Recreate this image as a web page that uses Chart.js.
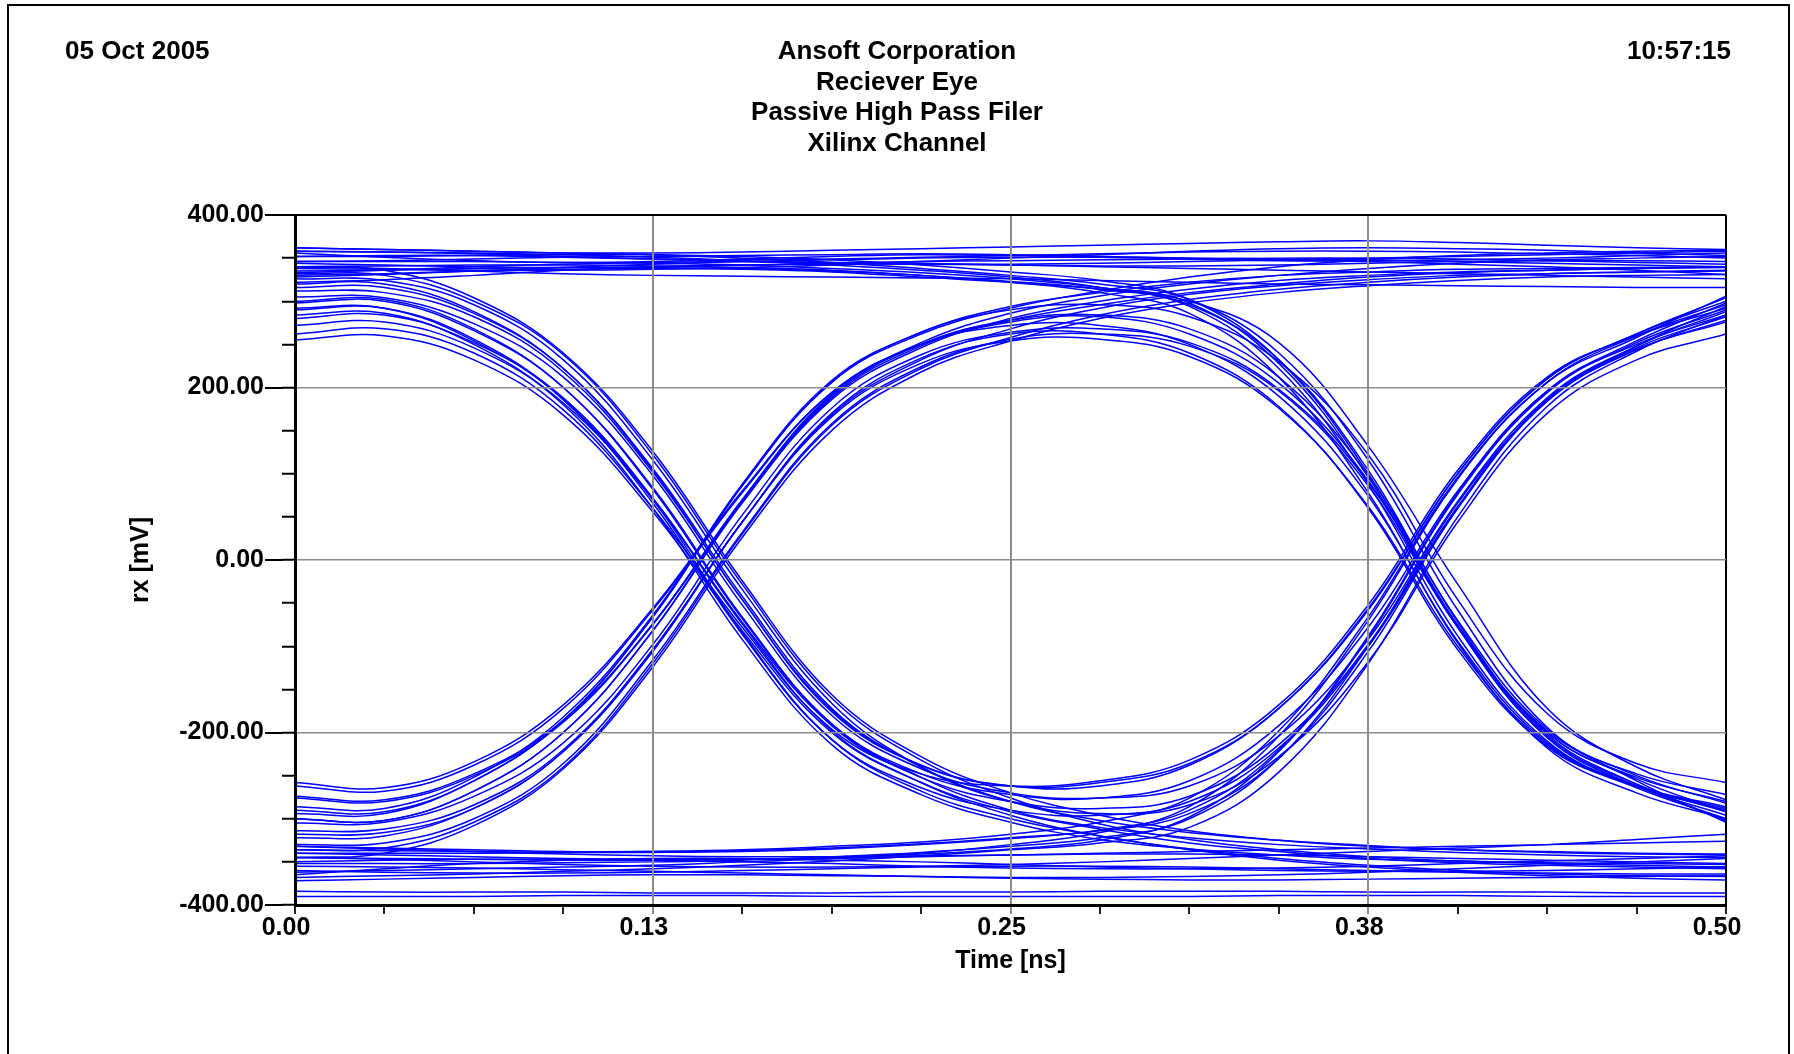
<!DOCTYPE html>
<html>
<head>
<meta charset="utf-8">
<title>Reciever Eye</title>
<script src="https://cdn.jsdelivr.net/npm/chart.js@4.4.0/dist/chart.umd.min.js"></script>
<style>
  html, body { margin: 0; padding: 0; background: #fff; }
  #wrap { position: relative; width: 1794px; height: 1054px; }
</style>
</head>
<body>
<div id="wrap"><canvas id="eyeCanvas"></canvas></div>
<script>
// header texts
var dateText = "05 Oct 2005";
var timeText = "10:57:15";
var titleLines = ["Ansoft Corporation", "Reciever Eye", "Passive High Pass Filer", "Xilinx Channel"];

// sample times [ns], shared by every trace
var timeNs = [0, 0.03125, 0.0625, 0.09375, 0.125, 0.15625, 0.1875, 0.21875, 0.25,
              0.28125, 0.3125, 0.34375, 0.375, 0.40625, 0.4375, 0.46875, 0.5];

var steadyHigh = [
  [362,360,358,356,356,357,359,361,363,365,367,369,370,368,365,362,360],
  [352,353,353,351,349,348,349,351,353,355,357,358,358,357,355,353,350],
  [344,342,340,339,340,342,344,346,347,348,349,350,350,349,347,345,343],
  [333,336,340,343,345,346,345,344,342,341,341,342,344,346,347,347,346],
  [356,351,347,345,346,349,352,354,353,351,349,347,347,348,350,353,356],
  [328,331,335,339,343,346,348,350,351,351,350,348,346,343,340,336,331],
  [346,347,349,351,352,353,354,355,354,352,350,349,348,346,344,342,340],
  [322,325,330,336,340,342,343,343,342,340,338,336,334,332,330,328,326],
  [338,337,336,336,337,339,342,346,350,354,358,361,362,361,359,356,353],
  [358,357,355,352,349,346,344,343,343,344,346,348,350,352,354,356,358],
  [340,338,335,332,330,329,328,327,326,324,322,320,319,318,317,316,316]
];
var steadyLow = [
  [-390,-390,-390,-389,-389,-389,-390,-390,-390,-390,-390,-389,-389,-389,-390,-390,-390],
  [-384,-385,-385,-385,-386,-386,-386,-385,-385,-384,-384,-384,-385,-385,-385,-386,-386],
  [-372,-370,-368,-366,-365,-365,-366,-367,-369,-370,-371,-371,-370,-369,-368,-367,-366],
  [-360,-362,-363,-363,-362,-360,-358,-356,-355,-355,-356,-358,-360,-362,-363,-364,-364],
  [-350,-348,-347,-347,-348,-350,-352,-355,-357,-358,-358,-357,-355,-352,-349,-346,-343],
  [-340,-342,-344,-346,-347,-347,-346,-344,-342,-341,-341,-342,-344,-346,-348,-350,-352],
  [-365,-358,-352,-348,-346,-346,-348,-350,-353,-356,-358,-360,-361,-361,-360,-358,-356],
  [-332,-335,-338,-341,-343,-344,-344,-343,-342,-340,-338,-336,-334,-332,-330,-328,-326],
  [-355,-356,-357,-359,-361,-363,-365,-367,-368,-368,-367,-365,-362,-358,-354,-350,-346],
  [-345,-347,-350,-353,-355,-356,-356,-355,-353,-350,-346,-342,-338,-334,-330,-324,-318]
];
var fallStayLow = [
  [300,302,268,200,84,-66,-190,-252,-290,-310,-322,-330,-335,-339,-342,-344,-345],
  [255,260,232,168,56,-82,-200,-258,-292,-312,-328,-338,-346,-351,-354,-356,-358],
  [332,330,300,238,122,-28,-160,-232,-276,-306,-324,-336,-344,-349,-352,-354,-356],
  [284,286,250,180,60,-92,-214,-272,-304,-324,-335,-342,-347,-349,-351,-352,-353],
  [316,316,286,222,106,-42,-172,-240,-280,-302,-316,-325,-331,-336,-339,-341,-342],
  [272,276,246,182,70,-74,-198,-258,-296,-320,-335,-346,-354,-360,-364,-366,-367],
  [340,336,304,240,126,-24,-156,-228,-270,-296,-314,-325,-332,-336,-338,-340,-341],
  [292,292,254,186,70,-84,-208,-268,-300,-320,-336,-348,-356,-362,-366,-369,-371]
];
var fallThenRise = [
  [298,300,266,200,82,-68,-190,-248,-272,-276,-256,-192,-78,80,196,250,284],
  [262,268,240,174,60,-78,-196,-248,-262,-256,-232,-168,-52,104,212,260,292],
  [326,324,296,232,116,-34,-166,-240,-280,-294,-284,-228,-118,44,170,232,262],
  [290,292,256,186,66,-86,-208,-264,-290,-296,-280,-218,-100,60,184,244,276],
  [312,310,282,218,102,-46,-176,-238,-262,-262,-238,-172,-58,100,210,262,304],
  [280,284,252,188,72,-72,-192,-252,-280,-288,-274,-214,-98,62,186,246,282],
  [305,304,274,212,98,-52,-180,-242,-270,-276,-262,-204,-92,68,188,248,288],
  [320,320,288,222,104,-46,-174,-238,-262,-258,-236,-172,-56,100,210,262,300]
];
var riseStayHigh = [
  [-300,-302,-268,-200,-82,66,186,246,280,300,314,324,330,334,336,338,339],
  [-258,-264,-234,-168,-56,80,194,250,278,296,310,320,328,333,336,338,340],
  [-336,-334,-304,-240,-120,30,156,222,258,284,302,314,322,328,332,334,336],
  [-286,-288,-252,-182,-64,88,208,264,294,310,322,330,334,337,338,339,340],
  [-318,-316,-288,-222,-106,44,168,232,268,292,308,318,325,330,332,334,335],
  [-274,-278,-248,-186,-74,70,192,252,286,306,320,330,338,344,348,350,352],
  [-345,-340,-308,-242,-124,26,150,218,254,280,298,310,318,324,328,330,331],
  [-294,-294,-256,-186,-66,86,206,262,292,312,328,340,348,353,356,358,359]
];
var riseThenFall = [
  [-300,-302,-268,-200,-82,68,188,248,276,282,262,205,92,-76,-200,-252,-280],
  [-262,-268,-238,-172,-58,78,194,250,272,272,250,190,74,-94,-212,-262,-290],
  [-330,-328,-300,-236,-116,32,158,224,256,262,248,196,86,-78,-198,-248,-272],
  [-290,-292,-256,-186,-66,86,206,264,290,296,282,230,122,-46,-178,-236,-258],
  [-314,-312,-284,-220,-104,44,166,228,254,256,236,176,62,-100,-214,-262,-286],
  [-276,-280,-250,-188,-75,68,190,250,278,284,268,212,98,-70,-196,-250,-282],
  [-305,-304,-274,-212,-98,52,176,238,264,268,252,198,90,-76,-200,-254,-292],
  [-322,-320,-288,-222,-104,44,170,234,262,262,240,178,60,-104,-216,-264,-300]
];
var highThenFall = [
  [352,352,353,354,354,352,348,342,334,324,302,232,100,-76,-204,-260,-292],
  [340,341,342,342,341,339,336,330,322,310,286,212,78,-96,-218,-270,-300],
  [362,360,358,356,354,350,345,338,330,320,302,240,116,-58,-194,-256,-304],
  [330,332,335,337,338,337,334,328,322,314,300,252,132,-28,-172,-240,-278],
  [346,346,346,345,344,342,338,333,326,316,298,228,96,-78,-206,-262,-296],
  [358,357,356,354,351,347,342,336,328,316,294,222,88,-88,-210,-262,-288],
  [335,336,338,339,339,338,335,330,323,314,296,232,104,-72,-202,-260,-302]
];
var lowThenRise = [
  [-345,-346,-347,-348,-348,-347,-345,-341,-335,-325,-298,-222,-90,76,194,252,290],
  [-362,-360,-358,-356,-354,-350,-346,-340,-330,-316,-286,-204,-70,94,206,260,296],
  [-332,-334,-336,-338,-338,-337,-334,-329,-322,-314,-294,-230,-106,60,186,248,294],
  [-352,-352,-352,-351,-350,-348,-344,-339,-332,-322,-300,-230,-100,66,184,244,278],
  [-340,-340,-340,-339,-338,-336,-332,-327,-318,-304,-276,-198,-66,96,206,258,306],
  [-368,-366,-364,-361,-358,-354,-349,-343,-336,-328,-310,-246,-120,50,178,242,284],
  [-336,-337,-338,-339,-339,-338,-335,-330,-323,-313,-290,-220,-88,78,196,254,298]
];

var yMajor = [400, 200, 0, -200, -400];
var labelFont = '"Liberation Sans", Arial, sans-serif';

var allTraces = [].concat(steadyHigh, steadyLow, fallStayLow, fallThenRise,
                          riseStayHigh, riseThenFall, highThenFall, lowThenRise);

var datasets = [];
for (var i in allTraces) {
  var pts = [];
  for (var j in timeNs) {
    pts.push({x: timeNs[j], y: allTraces[i][j]});
  }
  datasets.push({
    label: "rx" + i,
    data: pts,
    borderColor: "#0000ff",
    borderWidth: 1.5,
    pointRadius: 0,
    fill: false,
    tension: 0.4
  });
}

function isMultiple(v, step) {
  var r = Math.abs(v / step - Math.round(v / step));
  return r < 1e-6;
}

var headerPlugin = {
  id: "header",
  beforeDraw: function(chart) {
    var ctx = chart.ctx;
    ctx.save();
    ctx.fillStyle = "#fff";
    ctx.fillRect(0, 0, chart.width, chart.height);
    ctx.strokeStyle = "#000";
    ctx.lineWidth = 2;
    ctx.strokeRect(8, 5, 1781, 1200);
    ctx.fillStyle = "#000";
    ctx.font = "bold 26px " + labelFont;
    ctx.textBaseline = "alphabetic";
    ctx.textAlign = "left";
    ctx.fillText(dateText, 65, 59);
    ctx.textAlign = "right";
    ctx.fillText(timeText, 1731, 59);
    ctx.textAlign = "center";
    for (var k = 0; k < titleLines.length; k++) {
      ctx.fillText(titleLines[k], chart.width / 2, 59 + k * 30.5);
    }
    ctx.restore();
  },
  afterDraw: function(chart) {
    // longer tick marks at the labelled values
    var ctx = chart.ctx;
    var ys = chart.scales.y;
    var left = chart.chartArea.left;
    ctx.save();
    ctx.strokeStyle = "#000";
    ctx.lineWidth = 2;
    for (var k in yMajor) {
      var py = Math.round(ys.getPixelForValue(yMajor[k]));
      ctx.beginPath();
      ctx.moveTo(left - 30, py);
      ctx.lineTo(left - 12, py);
      ctx.stroke();
    }
    ctx.restore();
  }
};

var ctx = document.getElementById("eyeCanvas");

var eyeChart = new Chart(ctx, {
  type: "line",
  data: { datasets: datasets },
  plugins: [headerPlugin],
  options: {
    responsive: true,
    maintainAspectRatio: false,
    animation: false,
    layout: { padding: { top: 215, right: 68, bottom: 78, left: 0 } },
    plugins: {
      legend: { display: false },
      tooltip: { enabled: false },
      title: { display: false }
    },
    scales: {
      x: {
        type: "linear",
        min: 0,
        max: 0.5,
        afterFit: function(scale) { scale.height = 71; },
        afterBuildTicks: function(scale) {
          scale.ticks = timeNs.map(function(t) { return {value: t}; });
        },
        ticks: {
          autoSkip: false,
          maxRotation: 0,
          padding: -1,
          labelOffset: -9,
          color: "#000",
          font: { family: labelFont, size: 25, weight: "bold" },
          callback: function(v) { return isMultiple(v, 0.125) ? v.toFixed(2) : ""; }
        },
        grid: {
          z: 1,
          tickLength: 9,
          tickWidth: 2,
          color: function(c) {
            var v = c.tick ? c.tick.value : 0;
            if (v === 0.5) return "#000";
            if (v > 0 && isMultiple(v, 0.125)) return "#8c8c8c";
            return "rgba(0,0,0,0)";
          },
          lineWidth: 2,
          tickColor: function(c) {
            var v = c.tick ? c.tick.value : 0;
            return (v > 0 && v < 0.5 && isMultiple(v, 0.125)) ? "#8c8c8c" : "#222";
          }
        },
        border: { display: true, color: "#000", width: 3, z: 2 },
        title: {
          display: true,
          text: "Time [ns]",
          color: "#000",
          font: { family: labelFont, size: 25, weight: "bold" },
          padding: { top: 0, bottom: 0 }
        }
      },
      y: {
        type: "linear",
        min: -400,
        max: 400,
        afterFit: function(scale) { scale.width = 295; },
        ticks: {
          stepSize: 50,
          autoSkip: false,
          padding: 18,
          color: "#000",
          font: { family: labelFont, size: 25, weight: "bold" },
          callback: function(v) { return isMultiple(v, 200) ? v.toFixed(2) : ""; }
        },
        grid: {
          z: 1,
          tickLength: 13,
          tickWidth: 2,
          tickColor: "#000",
          color: function(c) {
            var v = c.tick ? c.tick.value : 0;
            if (v === 400) return "#000";
            if (v !== -400 && isMultiple(v, 200)) return "#8c8c8c";
            return "rgba(0,0,0,0)";
          },
          lineWidth: function(c) {
            var v = c.tick ? c.tick.value : 0;
            return v === 400 ? 2 : 1.5;
          }
        },
        border: { display: true, color: "#000", width: 3, z: 2 },
        title: {
          display: true,
          text: "rx [mV]",
          color: "#000",
          font: { family: labelFont, size: 25, weight: "bold" },
          padding: { top: 126, bottom: 0 }
        }
      }
    }
  }
});
</script>
</body>
</html>
